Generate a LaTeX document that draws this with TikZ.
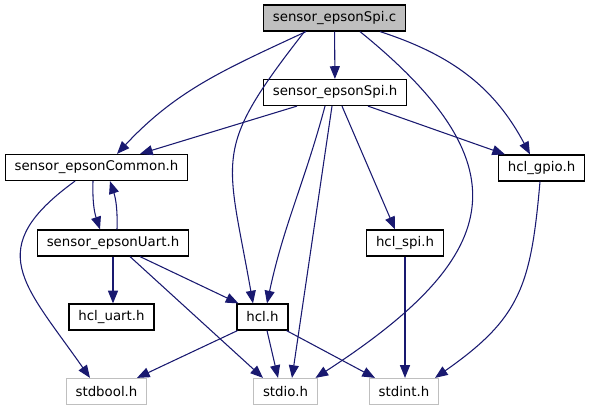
\documentclass[tikz,border=0pt]{standalone}
\usepackage{fontspec}
\setmainfont{DejaVu Sans}
\definecolor{enlace}{HTML}{191970}
\definecolor{sistema}{HTML}{BFBFBF}
\usetikzlibrary{calc, positioning, arrows.meta}

\begin{document}
\begin{tikzpicture}[x=0.75pt, y=0.75pt,
  archivo/.style={draw=black, fill=white, line width=0.9pt, font=\fontsize{10}{12}\selectfont,
    minimum height=19.5pt, inner xsep=7pt, inner ysep=0pt},
  externo/.style={archivo, draw=sistema},
  dep/.style={draw=enlace, line width=0.8pt, -{Triangle[length=9.5pt,width=7.5pt]}}]
  \useasboundingbox (0,0) rectangle (590,411);

  \node[archivo, fill=sistema] (spic) at (334.5,393) {sensor\_epsonSpi.c};
  \node[archivo] (spih) at (335,318.5) {sensor\_epsonSpi.h};
  \node[archivo] (common) at (96.5,243.5) {sensor\_epsonCommon.h};
  \node[archivo] (gpio) at (541.5,243) {hcl\_gpio.h};
  \node[archivo] (uart) at (113,168) {sensor\_epsonUart.h};
  \node[archivo] (spi) at (405,168) {hcl\_spi.h};
  \node[archivo] (hcluart) at (111.5,94) {hcl\_uart.h};
  \node[archivo] (hcl) at (262.5,94) {hcl.h};
  \node[externo] (stdbool) at (106.5,19.5) {stdbool.h};
  \node[externo] (stdio) at (285.5,19.5) {stdio.h};
  \node[externo] (stdint) at (404,19.5) {stdint.h};

  \draw[dep] (spic) -- (spih);
  \draw[dep] ($(spic.south)+(-28.5,0)$) to[out=205, in=47] ($(common.north)+(20.5,0)$);
  \draw[dep] ($(spic.south)+(-30,0)$) to[out=232, in=100, looseness=1.4] ($(hcl.north)+(-9.5,0)$);
  \draw[dep] ($(spic.south)+(25.5,0)$) to[out=321, in=33, looseness=1.6] ($(stdio.north)+(30,0)$);
  \draw[dep] ($(spic.south)+(45.5,0)$) to[out=342, in=118] ($(gpio.north)+(-11.5,0)$);

  \draw[dep] ($(spih.south)+(-38,0)$) -- ($(common.north)+(43.5,0)$);
  \draw[dep] ($(spih.south)+(-10,0)$) to[out=255, in=78] ($(hcl.north)+(4.5,0)$);
  \draw[dep] ($(spih.south)+(-3,0)$) -- ($(stdio.north)+(6.5,0)$);
  \draw[dep] ($(spih.south)+(7,0)$) -- ($(spi.north)+(-10,0)$);
  \draw[dep] ($(spih.south)+(33,0)$) -- ($(gpio.north)+(-36.5,0)$);

  \draw[dep] ($(common.south)+(-3.5,0)$) to[bend right=10] ($(uart.north)+(-13,0)$);
  \draw[dep] ($(common.south)+(-21.5,0)$) to[out=216, in=125, looseness=1.5] ($(stdbool.north)+(-16.5,0)$);
  \draw[dep] ($(uart.north)+(4,0)$) to[bend right=10] ($(common.south)+(13.5,0)$);

  \draw[dep] (uart.south) -- (uart.south |- hcluart.north);
  \draw[dep] ($(uart.south)+(27,0)$) -- ($(hcl.north west)+(2,0)$);
  \draw[dep] ($(uart.south)+(17,0)$) -- ($(stdio.north)+(-22.5,0)$);

  \draw[dep] ($(hcl.south west)+(1,0)$) -- ($(stdbool.north)+(30.5,0)$);
  \draw[dep] ($(hcl.south)+(4.5,0)$) -- ($(stdio.north)+(-7.5,0)$);
  \draw[dep] ($(hcl.south east)+(-2,0)$) -- ($(stdint.north)+(-29,0)$);

  \draw[dep] (spi.south) -- (spi.south |- stdint.north);
  \draw[dep] ($(gpio.south)+(-1.5,0)$) to[out=265, in=35, looseness=1.2] ($(stdint.north)+(31,0)$);
\end{tikzpicture}
\end{document}
